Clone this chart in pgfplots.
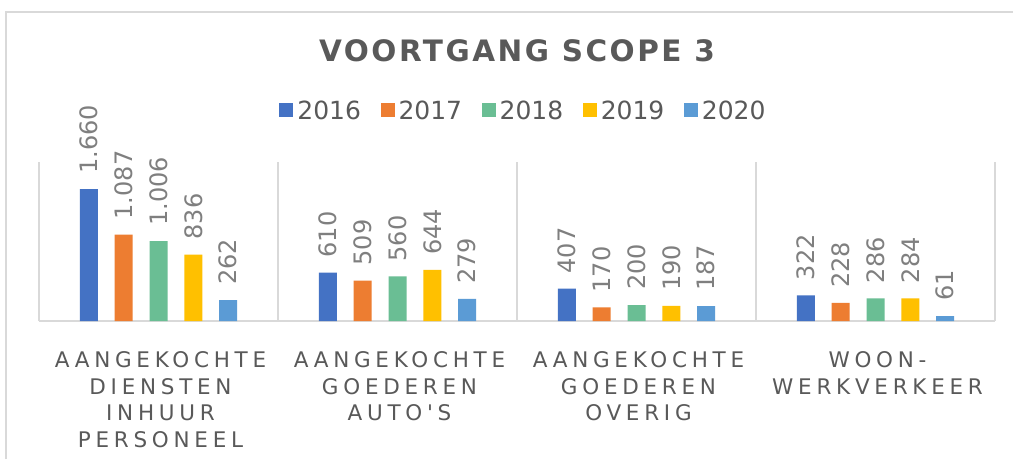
\documentclass[border=0pt]{standalone}
\usepackage{fontspec}
\setmainfont{DejaVu Sans}
\newfontfamily\titlefont[LetterSpace=8.5]{DejaVu Sans}
\newfontfamily\catfont[LetterSpace=22,Ligatures=TeXOff]{DejaVu Sans}
\usepackage{pgfplots}
\pgfplotsset{compat=1.18}
\definecolor{c16}{HTML}{4472C4}
\definecolor{c17}{HTML}{ED7D31}
\definecolor{c18}{HTML}{6ABE94}
\definecolor{c19}{HTML}{FFC000}
\definecolor{c20}{HTML}{5B9BD5}
\definecolor{txt}{HTML}{595959}
\definecolor{lbl}{HTML}{7F7F7F}
\definecolor{gridc}{HTML}{D9D9D9}
\begin{document}
\begin{tikzpicture}
\useasboundingbox (0,0) rectangle (1013pt,459pt);
\fill[white] (0,0) rectangle (1013pt,459pt);
\draw[gridc, line width=1.5pt] (6pt,0) -- (6pt,447pt) -- (1013pt,447pt);
\node[anchor=base, text=txt, inner sep=0pt] at (517pt,397pt) {\titlefont\bfseries\fontsize{29.5}{32}\selectfont VOORTGANG SCOPE 3};
\begin{axis}[
  at={(39pt,138pt)}, anchor=south west,
  scale only axis, width=956pt, height=159pt,
  ymin=0, ymax=2000, xmin=-0.5, xmax=3.5,
  axis y line=none, axis x line*=bottom,
  x axis line style={draw=gridc, line width=2pt},
  xtick={0,1,2,3},
  xticklabels={{AANGEKOCHTE\\DIENSTEN\\INHUUR\\PERSONEEL},{AANGEKOCHTE\\GOEDEREN\\AUTO'S},{AANGEKOCHTE\\GOEDEREN\\OVERIG},{WOON-\\WERKVERKEER}},
  xtick style={draw=none},
  ytick=\empty,
  extra x ticks={-0.5,0.5,1.5,2.5,3.5},
  extra x tick labels={},
  extra x tick style={grid=major, major grid style={draw=gridc, line width=2pt}, tick style={draw=none}},
  xticklabel style={font=\catfont\fontsize{21.5}{26.7}\selectfont, text=txt, align=center, anchor=north, inner sep=0pt, yshift=-26pt, xshift=2pt},
  ybar=16.8pt, bar width=18pt,
  /pgf/number format/assume math mode=true,
  nodes near coords={\pgfmathprintnumber[1000 sep={.}]{\pgfplotspointmeta}},
  every node near coord/.append style={rotate=90, anchor=west, inner xsep=15pt, inner ysep=0pt, text=lbl, font=\fontsize{24}{24}\selectfont},
  legend columns=5,
  legend style={at={(0.5078,1.324)}, anchor=center, draw=none, fill=none, font=\fontsize{25}{25}\selectfont, text=txt, /tikz/every even column/.append style={column sep=15.5pt}, nodes={inner xsep=4pt, inner ysep=0pt}},
  legend image code/.code={\fill[#1] (0pt,-6.5pt) rectangle (14pt,7.5pt);},
]
\addplot[fill=c16, draw=none] coordinates {(0,1660) (1,610) (2,407) (3,322)};
\addplot[fill=c17, draw=none] coordinates {(0,1087) (1,509) (2,170) (3,228)};
\addplot[fill=c18, draw=none] coordinates {(0,1006) (1,560) (2,200) (3,286)};
\addplot[fill=c19, draw=none] coordinates {(0,836) (1,644) (2,190) (3,284)};
\addplot[fill=c20, draw=none] coordinates {(0,262) (1,279) (2,187) (3,61)};
\legend{2016,2017,2018,2019,2020}
\end{axis}
\end{tikzpicture}
\end{document}
